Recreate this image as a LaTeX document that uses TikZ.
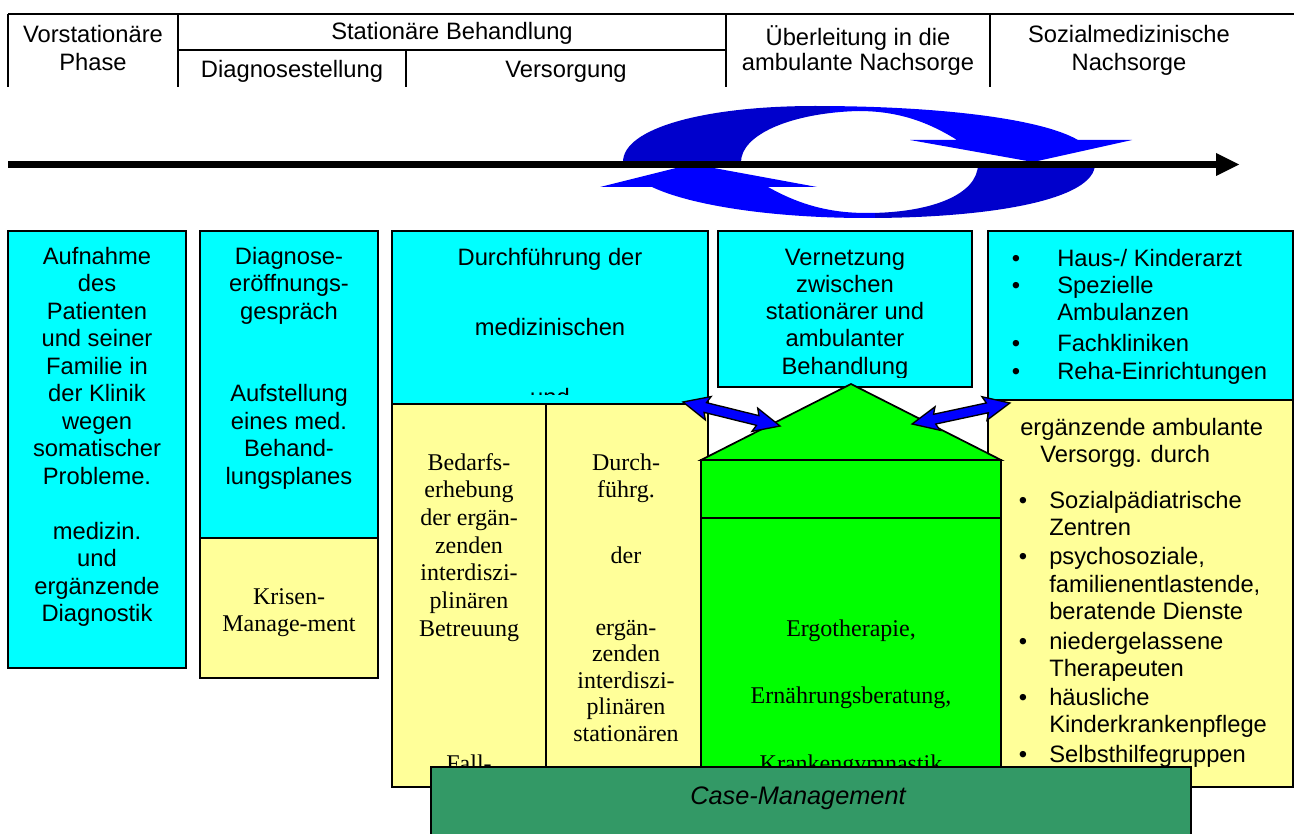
\documentclass[tikz,border=0pt]{standalone}
\usepackage{fontspec}
\setmainfont{Liberation Sans}
\newfontfamily\tnr{Liberation Serif}
\usetikzlibrary{calc}
\definecolor{cyanbox}{RGB}{0,255,255}
\definecolor{yellowbox}{RGB}{255,255,153}
\definecolor{greenbox}{RGB}{0,255,0}
\definecolor{bluearrow}{RGB}{0,0,255}
\definecolor{darkbluearrow}{RGB}{0,0,204}
\definecolor{casegreen}{RGB}{51,153,102}
\newcommand{\txtlines}[6]{%
  \foreach \mytxt [count=\i] in {#6} {\node[#2] (#1\i) at (#3, {#4+(\i-1)*#5}) {\mytxt};}}
\def\upperpath{(623,162) .. controls (623,128) and (705,106) .. (815,106) .. controls (935,106) and (1040,118) .. (1078,140) -- (1132,140) -- (1033,162) -- (910,140) -- (957,140) .. controls (925,120) and (895,111) .. (858,111) .. controls (790,113) and (741,135) .. (741,162) -- cycle}
\def\lowerpath{(1095,164) .. controls (1095,200) and (990,218) .. (867,218) .. controls (770,218) and (690,205) .. (652,187) -- (600,187) -- (692,164) -- (817,187) -- (768,187) .. controls (800,205) and (830,213) .. (867,213) .. controls (930,213) and (978,195) .. (978,164) -- cycle}
\tikzset{
  hdr/.style={line width=1.5pt},
  box/.style={draw=black, line width=1.3pt},
  sans/.style={font=\fontsize{17.8}{20.6}\selectfont, anchor=base, inner sep=0pt},
  sansl/.style={sans, anchor=base west},
  serif/.style={font=\tnr\fontsize{18}{20.6}\selectfont, anchor=base, inner sep=0pt},
  dblarrow/.pic={\draw[fill=bluearrow, line width=1pt] (-50,0) -- (-24,-12) -- (-27,-5) -- (27,-5) -- (24,-12) -- (50,0) -- (24,12) -- (27,5) -- (-27,5) -- (-24,12) -- cycle;}
}
\begin{document}
\begin{tikzpicture}[x=0.75pt,y=-0.75pt]
\useasboundingbox (0,0) rectangle (1294,834);
\fill[white] (0,0) rectangle (1294,834);

% header table
\draw[hdr] (8,14) -- (1294,14);
\draw[hdr] (8,14) -- (8,87);
\draw[hdr] (178,14) -- (178,87);
\draw[hdr] (178,50) -- (726,50);
\draw[hdr] (406,50) -- (406,87);
\draw[hdr] (726,14) -- (726,87);
\draw[hdr] (990,14) -- (990,87);
\node[sans] (h1) at (93,43) {Vorstationäre};
\node[sans] (h2) at (93,71) {Phase};
\node[sans] (h3) at (452,40) {Stationäre Behandlung};
\node[sans] (h4) at (292,78) {Diagnosestellung};
\node[sans] (h5) at (566,78) {Versorgung};
\node[sans] (h6) at (858,46) {Überleitung in die};
\node[sans] (h7) at (858,71) {ambulante Nachsorge};
\node[sans] (h8) at (1129,43) {Sozialmedizinische};
\node[sans] (h9) at (1129,71) {Nachsorge};

% circular arrows
\begin{scope}
  \clip \upperpath;
  \fill[darkbluearrow] (590,95) rectangle (830,170);
  \fill[bluearrow] (830,95) rectangle (1140,170);
\end{scope}
\begin{scope}
  \clip \lowerpath;
  \fill[bluearrow] (590,160) rectangle (875,225);
  \fill[darkbluearrow] (875,160) rectangle (1100,225);
\end{scope}

% time line
\coordinate (tlstart) at (8,164.5);
\coordinate (tlend) at (1218,164.5);
\draw[line width=5.3pt] (tlstart) -- (tlend);
\fill (1216,153) -- (1239,164.5) -- (1216,176) -- cycle;

% column 1
\draw[box, fill=cyanbox] (8,231) rectangle (186,668);
\txtlines{ca}{sans}{97}{264}{27.5}{Aufnahme,des,Patienten,und seiner,Familie in,der Klinik,wegen,somatischer,Probleme.,{},medizin.,und,ergänzende,Diagnostik}

% column 2
\draw[box, fill=cyanbox] (200,231) rectangle (378,538);
\draw[box, fill=yellowbox] (200,538) rectangle (378,678);
\txtlines{cb}{sans}{289}{264}{27.5}{Diagnose-,eröffnungs-,gespräch,{},{},Aufstellung,eines med.,Behand-,lungsplanes}
\txtlines{cc}{serif}{289}{604}{27}{Krisen-,Manage-ment}

% column 3
\draw[box, fill=cyanbox] (392,231) rectangle (708,404);
\begin{scope}
  \clip (392,231) rectangle (708,394);
  \txtlines{cd}{sans}{550}{265}{70}{Durchführung der,medizinischen,und}
\end{scope}
\draw[box, fill=yellowbox] (392,404) rectangle (708,787);
\draw[box] (546,404) -- (546,787);
\txtlines{ce}{serif}{469}{470}{27.7}{Bedarfs-,erhebung,der ergän-,zenden,interdiszi-,plinären,Betreuung}
\node[serif] (fall) at (469,771) {Fall-};
\txtlines{cf}{serif}{626}{470}{27}{Durch-,führg.}
\node[serif] (der) at (626,563) {der};
\txtlines{cg}{serif}{626}{635}{26.6}{ergän-,zenden,interdiszi-,plinären,stationären}

% column 4 (Vernetzung)
\draw[box, fill=cyanbox] (718,231) rectangle (972,387);
\begin{scope}
  \clip (718,231) rectangle (972,377);
  \txtlines{ch}{sans}{845}{265}{27.3}{Vernetzung,zwischen,stationärer und,ambulanter,Behandlung}
\end{scope}

% column 5
\draw[box, fill=cyanbox] (988,231) rectangle (1293,400);
\draw[box, fill=yellowbox] (988,400) rectangle (1293,787);
\foreach \yy/\nm in {266/a,293/b,351/c,379/d} {\node[sans] (bu\nm) at (1016,\yy) {\textbullet};}
\node[sansl] (r1) at (1057,266) {Haus-/ Kinderarzt};
\node[sansl] (r2) at (1057,293) {Spezielle};
\node[sansl] (r3) at (1057,320) {Ambulanzen};
\node[sansl] (r4) at (1057,351) {Fachkliniken};
\node[sansl] (r5) at (1057,379) {Reha-Einrichtungen};
\node[sansl] (s1) at (1020,435) {ergänzende ambulante};
\node[sansl] (s2) at (1040,462) {Versorgg. durch};
\foreach \yy/\nm in {508/a,564/b,649/c,705/d,762/e} {\node[sans] (bl\nm) at (1023,\yy) {\textbullet};}
\node[sansl] (l1) at (1049,508) {Sozialpädiatrische};
\node[sansl] (l2) at (1049,535) {Zentren};
\node[sansl] (l3) at (1049,564) {psychosoziale,};
\node[sansl] (l4) at (1049,592) {familienentlastende,};
\node[sansl] (l5) at (1049,619) {beratende Dienste};
\node[sansl] (l6) at (1049,649) {niedergelassene};
\node[sansl] (l7) at (1049,676) {Therapeuten};
\node[sansl] (l8) at (1049,705) {häusliche};
\node[sansl] (l9) at (1049,732) {Kinderkrankenpflege};
\node[sansl] (l10) at (1049,762) {Selbsthilfegruppen};

% green house
\draw[box, fill=greenbox, line join=miter] (701,460) -- (851,384) -- (1001,460) -- cycle;
\draw[box, fill=greenbox] (701,460) rectangle (1001,518);
\draw[box, fill=greenbox] (701,518) rectangle (1001,790);
\txtlines{gr}{serif}{851}{636}{67.5}{{Ergotherapie,},{Ernährungsberatung,},Krankengymnastik}

% double arrows
\pic[rotate=-13.9] at (731.5,414) {dblarrow};
\pic[rotate=12.1] at (961,413.5) {dblarrow};

% case management
\draw[box, fill=casegreen] (431,767) rectangle (1191,845);
\node[font=\itshape\fontsize{19}{22}\selectfont, anchor=base, inner sep=0pt] (cm) at (798,804) {Case-Management};
\end{tikzpicture}
\end{document}
